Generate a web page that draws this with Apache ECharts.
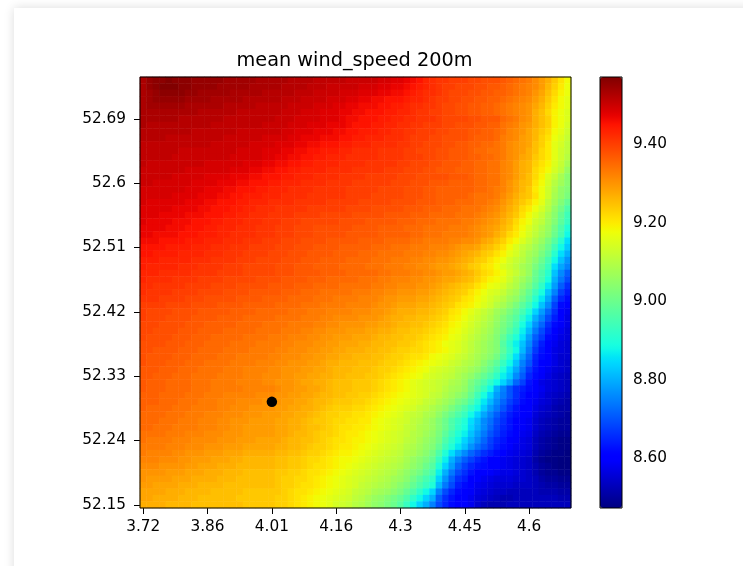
<!DOCTYPE html>
<html>
<head>
<meta charset="utf-8">
<script src="https://cdn.jsdelivr.net/npm/echarts@6/dist/echarts.min.js"></script>
<style>
html,body{margin:0;padding:0;width:743px;height:566px;overflow:hidden;background:#fff}
#panel{position:absolute;left:14px;top:8px;width:800px;height:620px;background:#fff;box-shadow:0 0 10px rgba(0,0,0,.14)}
#chart{position:absolute;left:0;top:0;width:743px;height:566px;filter:blur(0.7px)}
</style>
</head>
<body>
<div id="panel"></div>
<div id="chart"></div>
<script>
const titleText = 'mean wind_speed 200m';
const lonTickLabels = ['3.72','3.86','4.01','4.16','4.3','4.45','4.6'];
const latTickLabels = ['52.15','52.24','52.33','52.42','52.51','52.6','52.69'];
const colorbarTicks = [8.6, 8.8, 9.0, 9.2, 9.4];
const windMin = 8.473, windMax = 9.571;
const markerPoint = [20, 16];
// wind speed x100, top row of the picture first
const windRows = [
[953,955,956,956,957,956,956,956,955,955,955,955,955,954,954,954,954,954,953,953,953,953,953,952,952,952,952,951,951,951,951,951,950,950,950,950,950,949,949,948,948,947,946,945,943,942,941,941,940,940,940,939,939,938,938,938,937,936,935,934,933,931,929,927,924,921,918],
[953,955,956,957,957,957,956,956,955,955,955,955,954,954,954,954,954,953,953,953,953,953,952,952,952,952,951,951,951,950,950,950,950,950,949,949,949,948,948,947,947,946,945,944,943,942,941,940,940,939,939,939,938,938,937,937,936,935,934,933,932,931,929,926,923,920,917],
[953,954,955,956,956,956,956,955,955,954,954,954,954,954,953,953,953,953,953,952,952,952,952,952,951,951,951,950,950,950,950,949,949,949,948,948,948,947,947,946,946,945,944,943,942,942,941,940,939,939,939,938,938,937,937,936,936,935,934,933,932,930,928,925,922,919,917],
[953,954,955,955,955,955,955,954,954,954,954,953,953,953,953,953,952,952,952,952,952,952,951,951,951,950,950,950,950,949,949,949,948,948,947,947,946,946,945,945,945,944,943,943,942,941,940,940,939,939,938,938,937,937,936,936,935,934,933,932,931,929,927,924,921,918,916],
[953,954,954,954,954,954,954,953,953,953,953,953,953,952,952,952,952,952,951,951,951,951,951,950,950,950,950,949,949,949,948,948,947,947,946,946,946,945,945,944,944,943,942,942,941,941,940,939,939,938,938,937,937,936,936,935,934,933,932,931,930,928,926,923,920,918,916],
[953,953,953,953,953,953,953,953,953,952,952,952,952,952,952,951,951,951,951,951,951,951,950,950,950,949,949,949,948,948,948,947,947,946,946,945,945,945,944,944,943,943,942,941,941,940,940,939,939,938,938,937,937,936,936,935,934,933,932,931,930,927,925,922,919,917,915],
[953,953,953,953,953,953,952,952,952,952,952,952,952,951,951,951,951,951,951,951,951,950,950,950,949,949,949,949,948,948,948,947,946,946,945,945,945,944,944,943,943,942,942,941,941,941,940,939,939,939,939,938,938,937,937,937,935,934,933,931,930,927,925,923,919,917,915],
[953,952,952,952,952,952,952,952,952,952,952,951,951,951,951,951,951,951,951,950,950,950,950,949,949,949,948,948,948,947,947,947,946,945,945,945,944,944,943,943,942,942,941,941,940,940,940,939,939,938,938,938,937,937,936,936,934,933,932,930,929,927,925,923,919,917,914],
[952,952,952,952,952,952,952,952,951,951,951,951,951,951,951,950,950,950,950,950,950,950,949,949,948,948,948,947,947,947,946,946,945,945,944,944,944,943,943,942,942,941,941,940,940,940,939,939,938,938,938,937,937,936,936,935,934,932,931,930,928,926,924,922,918,916,913],
[952,952,952,952,951,951,951,951,951,951,951,951,951,950,950,950,950,950,950,949,949,949,949,948,948,947,947,947,946,946,946,945,945,944,944,943,943,943,942,942,942,941,940,940,940,939,939,938,938,938,938,937,936,936,936,935,933,932,931,929,928,926,923,921,917,915,912],
[951,951,951,951,951,951,951,951,951,951,951,950,950,950,950,950,950,949,949,949,949,948,948,948,947,947,946,946,945,945,945,944,944,943,943,943,942,942,942,942,941,941,940,940,939,939,939,938,938,937,937,936,936,935,935,934,933,931,930,929,928,925,923,920,916,914,911],
[951,951,951,951,951,951,950,950,950,950,950,950,950,950,950,949,949,949,949,948,948,948,947,947,946,946,945,945,944,944,944,943,943,942,942,942,942,941,941,941,941,940,940,939,939,939,938,938,937,937,937,936,935,935,934,934,933,931,930,929,927,925,922,920,916,913,911],
[951,951,951,951,951,950,950,950,950,950,950,950,950,950,949,949,949,949,949,948,948,947,947,946,946,945,945,944,944,943,943,943,942,942,942,942,942,941,941,941,941,940,940,940,939,939,938,938,937,937,937,936,936,935,935,934,933,931,930,928,927,924,922,920,916,913,910],
[951,950,950,950,950,950,950,950,950,950,949,949,949,949,949,949,948,948,948,947,947,946,946,945,945,944,944,943,943,943,943,942,942,942,942,941,941,941,941,941,940,940,939,939,939,938,938,937,937,937,936,936,935,935,934,934,932,931,929,927,926,923,921,919,915,912,908],
[950,950,950,950,950,950,950,949,949,949,949,949,949,949,948,948,948,947,947,946,946,945,945,944,944,943,943,943,943,942,942,942,942,941,941,941,941,941,940,940,940,939,939,939,938,938,937,937,937,936,936,936,935,935,934,934,932,931,929,927,926,922,920,918,914,911,906],
[950,950,950,950,950,949,949,949,949,949,948,948,948,948,947,947,947,946,946,945,945,945,944,944,943,943,943,942,942,942,942,941,941,941,941,940,940,940,940,940,939,939,939,938,938,938,938,938,937,937,937,936,935,935,934,934,932,931,929,927,925,922,919,915,912,908,904],
[950,950,949,949,949,949,949,949,948,948,948,948,947,947,947,946,946,945,945,945,944,944,943,943,943,942,942,942,942,941,941,941,941,940,940,940,940,940,940,939,939,939,938,938,938,937,937,937,936,936,936,936,935,935,934,934,932,930,928,926,925,921,918,914,910,907,904],
[949,949,949,949,949,949,949,948,948,948,947,947,947,946,946,945,945,945,944,944,943,943,943,942,942,942,942,941,941,941,941,941,940,940,940,940,940,939,939,939,939,938,938,938,937,937,936,936,936,936,936,936,935,935,934,933,932,930,928,926,924,920,917,913,909,905,903],
[949,949,949,949,949,948,948,948,948,947,947,947,946,946,945,945,944,944,944,943,943,943,942,942,942,942,941,941,941,941,941,941,940,940,940,940,939,939,939,939,939,938,938,938,937,937,936,936,936,936,936,935,934,934,934,933,931,929,927,925,924,921,917,913,908,905,902],
[949,948,948,948,948,948,948,947,947,947,946,946,945,945,945,944,944,943,943,943,942,942,942,942,941,941,941,941,941,940,940,940,940,940,939,939,939,939,939,938,938,938,938,937,937,937,936,936,936,935,935,935,934,934,933,932,930,928,926,924,922,919,916,911,907,903,899],
[948,948,948,948,948,947,947,947,947,946,946,945,945,945,944,944,943,943,942,942,942,941,941,941,941,941,940,940,940,940,940,940,939,939,939,939,938,938,938,938,938,937,937,937,936,936,936,935,935,935,934,934,934,933,932,931,929,927,925,922,920,917,914,910,905,901,896],
[948,948,948,947,947,947,947,946,946,946,945,945,945,944,944,943,943,942,942,942,941,941,941,941,940,940,940,940,939,939,939,939,939,938,938,938,938,938,937,937,937,937,936,936,936,935,935,935,935,934,934,934,933,932,931,930,928,926,924,921,918,915,912,908,904,899,894],
[948,947,947,947,947,946,946,946,945,945,945,944,944,943,943,943,942,942,942,941,941,941,940,940,940,939,939,939,939,939,939,938,938,938,938,937,937,937,937,937,936,936,936,935,935,935,934,934,934,934,933,933,932,931,930,929,927,925,922,919,917,913,911,907,903,898,893],
[947,947,947,947,946,946,946,945,945,945,944,944,943,943,943,942,942,942,941,941,941,940,940,940,939,939,939,938,938,938,938,938,938,937,937,937,937,936,936,936,936,935,935,935,934,934,934,934,933,933,933,932,931,930,929,928,926,924,921,918,915,912,909,906,901,896,890],
[947,947,946,946,946,946,945,945,945,944,944,944,943,943,942,942,942,942,941,941,941,940,940,940,939,939,939,938,938,938,938,938,937,937,937,937,937,936,936,936,936,936,935,935,934,934,934,933,933,933,933,932,931,930,929,927,925,922,920,917,914,911,908,905,900,895,888],
[946,946,946,945,945,945,945,944,944,944,943,943,943,942,942,942,941,941,941,940,940,940,939,939,939,938,938,938,938,937,937,937,937,937,936,936,936,936,935,935,935,935,934,934,933,933,933,933,932,932,931,931,930,928,927,925,923,920,918,915,912,909,906,902,897,891,885],
[945,945,945,945,944,944,944,944,943,943,943,942,942,942,941,941,941,940,940,940,940,939,939,939,938,938,938,937,937,937,937,936,936,936,936,936,935,935,935,934,934,934,933,933,933,932,932,932,931,930,929,929,928,926,925,923,921,918,915,912,910,907,904,900,894,888,883],
[945,945,944,944,944,944,943,943,943,943,942,942,942,941,941,941,940,940,940,940,939,939,939,938,938,938,937,937,937,937,936,936,936,936,935,935,935,934,934,934,934,933,933,933,932,932,931,931,930,929,928,927,926,924,923,921,919,916,914,911,908,906,902,898,891,885,880],
[944,944,944,943,943,943,943,943,942,942,942,941,941,941,941,940,940,940,939,939,939,939,938,938,938,937,937,937,936,936,936,936,935,935,935,935,934,934,934,933,933,933,932,932,931,931,930,930,929,928,927,926,924,923,921,919,917,914,912,910,907,904,900,895,888,882,877],
[944,943,943,943,943,943,942,942,942,941,941,941,941,940,940,940,939,939,939,939,939,938,938,938,937,937,937,936,936,936,936,935,935,935,935,934,934,934,933,933,933,932,932,931,931,930,929,929,928,927,926,924,923,921,920,918,915,913,911,908,906,902,898,893,885,879,875],
[943,943,943,942,942,942,942,942,941,941,941,941,940,940,940,940,939,939,939,939,939,938,938,938,937,937,937,937,936,936,936,936,935,935,935,935,935,934,934,933,933,933,932,932,931,931,930,929,929,928,927,926,924,922,921,919,917,914,912,909,906,900,896,891,882,876,871],
[943,942,942,942,942,941,941,941,941,940,940,940,940,939,939,939,939,939,938,938,938,938,937,937,937,937,936,936,936,935,935,935,935,935,934,934,934,933,933,932,932,932,931,931,930,930,929,928,928,927,926,925,923,921,919,918,916,913,910,907,904,899,895,889,880,874,869],
[942,942,941,941,941,941,941,940,940,940,940,939,939,939,939,938,938,938,938,938,937,937,937,937,936,936,936,935,935,935,935,934,934,934,934,934,933,933,932,932,931,931,931,930,930,929,928,927,926,925,924,923,921,919,917,916,914,911,909,905,902,897,892,886,878,871,866],
[942,941,941,941,941,940,940,940,940,939,939,939,939,938,938,938,938,937,937,937,937,937,936,936,936,935,935,935,934,934,934,934,934,933,933,933,932,932,931,931,930,930,930,929,929,928,927,926,925,924,923,921,919,917,915,914,912,909,907,903,899,894,889,882,875,868,864],
[941,941,941,940,940,940,940,939,939,939,938,938,938,938,938,937,937,937,937,936,936,936,936,935,935,935,935,934,934,934,933,933,933,933,932,932,932,931,930,930,929,929,929,928,928,927,926,925,924,923,921,920,918,916,914,912,910,907,905,901,897,891,886,879,871,865,862],
[940,940,940,940,939,939,939,939,938,938,938,938,937,937,937,937,936,936,936,936,936,935,935,935,935,934,934,934,933,933,933,933,932,932,932,932,931,930,930,929,928,928,928,927,927,926,925,924,923,921,920,919,917,915,913,910,908,905,902,898,894,888,882,876,868,862,860],
[940,939,939,939,939,938,938,938,938,937,937,937,937,937,936,936,936,936,935,935,935,935,935,934,934,934,933,933,933,932,932,932,932,931,931,931,930,930,929,928,927,927,927,926,926,925,924,923,921,920,918,916,914,912,910,907,905,902,899,895,890,884,878,872,866,861,858],
[940,939,939,939,938,938,938,938,937,937,937,937,936,936,936,936,935,935,935,935,935,934,934,934,934,933,933,933,932,932,931,931,931,931,930,930,930,929,928,927,927,926,926,925,925,924,923,922,920,919,917,915,913,911,909,906,903,900,897,892,887,880,875,869,864,860,857],
[939,939,939,938,938,938,938,937,937,937,936,936,936,936,936,935,935,935,935,934,934,934,934,933,933,933,933,932,932,931,931,930,930,930,930,929,929,928,928,927,926,926,925,925,924,923,922,921,919,918,916,914,912,910,908,905,902,899,895,889,884,877,872,866,862,859,857],
[939,939,938,938,938,938,937,937,937,936,936,936,936,935,935,935,935,935,934,934,934,934,933,933,933,932,932,931,931,930,930,930,929,929,929,928,928,927,927,926,925,925,924,924,923,922,921,920,918,917,915,913,911,909,907,904,901,897,893,887,881,874,869,864,860,858,856],
[939,938,938,938,938,937,937,937,936,936,936,935,935,935,935,935,934,934,934,934,933,933,933,932,932,932,931,931,930,930,929,929,929,928,928,928,927,926,926,925,925,924,924,923,922,921,920,919,917,916,914,912,910,908,906,903,899,894,890,885,878,871,867,862,859,857,856],
[938,938,938,938,937,937,937,936,936,936,935,935,935,935,934,934,934,934,933,933,933,933,932,932,931,931,931,930,930,929,929,928,928,928,927,927,926,926,925,925,924,924,923,922,921,920,919,917,916,915,913,911,909,907,905,903,897,892,887,882,876,869,864,860,858,856,855],
[938,938,937,937,937,937,936,936,936,935,935,935,935,934,934,934,934,933,933,933,933,932,932,931,931,931,930,930,929,929,928,928,927,927,927,926,926,925,925,924,923,923,922,922,921,920,919,918,916,915,913,911,909,907,905,903,898,893,888,881,874,867,863,860,857,856,855],
[938,937,937,937,937,936,936,936,935,935,935,935,934,934,934,933,933,933,933,933,932,932,931,931,931,930,930,929,929,928,928,927,927,926,926,926,925,925,924,923,923,922,921,921,920,918,917,916,915,913,912,910,908,906,904,901,896,891,885,878,872,865,862,860,857,855,855],
[938,937,937,937,936,936,936,935,935,935,934,934,934,934,933,933,933,933,932,932,932,931,931,930,930,930,929,929,928,927,927,926,926,926,925,925,925,924,923,923,922,921,920,919,918,917,916,915,913,912,910,909,907,904,901,898,893,888,882,875,870,864,861,859,857,855,854],
[937,937,937,936,936,936,935,935,935,934,934,934,934,933,933,933,932,932,932,932,931,931,930,930,930,929,929,928,928,927,926,926,926,925,925,925,924,923,923,922,921,920,919,918,917,915,914,913,912,910,909,907,905,902,899,895,890,885,879,873,867,863,860,858,856,855,854],
[937,937,936,936,936,935,935,935,934,934,934,934,933,933,933,933,932,932,932,931,931,931,930,930,929,929,928,928,927,927,926,926,925,925,925,924,924,923,922,921,920,919,918,917,915,914,913,912,911,909,907,905,902,899,896,892,887,883,876,871,865,862,859,857,855,854,853],
[937,936,936,936,935,935,935,935,934,934,934,933,933,933,933,932,932,932,932,931,931,930,930,930,929,928,928,927,927,926,925,925,925,924,924,924,923,922,921,920,919,918,916,915,914,913,912,911,909,908,906,902,899,896,892,888,884,879,872,868,863,860,857,856,855,854,853],
[937,936,936,936,935,935,935,935,934,934,934,933,933,933,933,933,932,932,932,932,932,931,930,930,929,929,928,928,927,926,925,925,925,924,924,924,923,922,921,920,919,918,916,915,914,913,912,910,908,907,905,901,897,893,888,880,875,870,866,864,862,860,858,856,855,854,853],
[936,936,936,935,935,935,935,934,934,934,933,933,933,932,932,932,932,932,931,931,931,930,930,929,929,928,928,927,926,926,925,925,924,924,923,923,922,921,920,919,918,917,916,915,914,912,911,909,907,905,903,899,894,889,884,878,874,870,866,863,861,859,857,855,854,853,852],
[936,936,936,935,935,935,934,934,934,933,933,933,932,932,932,931,931,931,931,930,930,930,929,929,928,928,927,926,926,925,924,924,924,923,923,922,921,920,919,918,917,916,915,914,912,911,909,907,905,902,900,896,891,886,881,876,872,868,865,862,860,858,856,855,853,852,851],
[936,935,935,935,935,934,934,934,933,933,933,933,932,932,931,931,931,930,930,930,930,929,929,928,928,927,927,926,925,924,923,923,923,922,922,921,920,919,918,917,916,915,914,912,911,909,907,905,902,899,896,892,888,883,878,874,870,866,863,861,860,857,855,854,852,851,851],
[935,935,935,935,934,934,934,933,933,933,932,932,932,931,931,931,930,930,930,929,929,929,928,928,927,927,926,925,924,923,923,922,922,921,921,920,919,918,917,916,915,913,912,911,909,908,905,902,899,896,893,888,884,879,875,871,867,864,862,860,859,856,854,853,852,851,850],
[935,935,935,934,934,934,933,933,933,932,932,932,931,931,930,930,930,929,929,929,929,928,928,927,927,926,925,924,924,923,922,922,921,921,920,920,918,917,916,915,914,913,911,910,908,906,903,900,896,893,890,885,881,876,873,869,866,863,861,859,858,855,853,852,851,850,850],
[935,935,934,934,934,933,933,933,933,932,932,932,931,931,930,930,929,929,929,929,929,928,928,927,927,926,925,925,924,923,922,921,921,920,920,919,918,917,916,915,914,912,911,909,908,906,903,900,896,892,889,884,880,876,872,868,865,863,861,859,858,855,853,852,851,850,850],
[934,934,934,934,933,933,933,932,932,932,931,931,931,930,930,930,929,929,929,929,929,928,928,927,926,926,925,924,923,923,922,921,920,920,919,918,917,916,915,914,913,912,910,909,907,905,902,898,894,890,887,882,878,874,870,867,864,862,860,858,857,854,852,851,850,849,849],
[934,933,933,933,933,932,932,932,931,931,931,931,930,930,930,929,929,929,928,928,928,928,927,926,926,925,925,924,923,922,921,921,920,919,919,918,917,916,915,914,913,911,910,908,906,904,901,896,892,888,884,880,876,872,868,865,863,861,859,857,856,853,851,850,849,848,848],
[933,933,933,933,932,932,932,931,931,931,930,930,930,929,929,929,928,928,928,928,928,927,927,926,926,925,924,923,923,922,921,920,920,919,918,917,916,915,914,913,912,910,909,907,905,903,899,894,890,886,882,877,873,870,867,864,862,860,858,857,856,853,851,850,849,848,848],
[933,932,932,932,932,931,931,930,930,930,929,929,929,928,928,928,927,927,927,927,927,926,926,925,925,924,923,923,922,921,920,919,919,918,917,916,915,914,913,912,911,909,908,906,904,901,896,890,885,880,876,872,869,866,864,862,860,858,857,856,855,852,850,849,848,848,847],
[932,932,932,931,931,931,930,930,929,929,929,928,928,928,927,927,926,926,926,926,926,925,925,924,924,923,922,922,921,920,919,918,918,917,916,915,914,913,912,911,910,908,906,904,902,899,893,887,880,875,871,868,865,863,861,860,858,857,856,855,854,851,849,848,848,847,847],
[931,931,931,930,930,930,930,929,929,928,928,928,927,927,927,926,926,926,926,926,926,925,925,924,924,923,922,921,921,920,919,918,917,916,915,914,913,912,911,910,909,907,905,903,900,897,890,884,878,872,868,865,863,862,861,860,858,857,856,855,854,852,850,849,848,847,847],
[930,930,930,930,929,929,929,928,928,928,927,927,927,926,926,926,925,925,925,925,925,924,924,923,923,922,921,921,920,919,918,917,916,915,914,913,912,911,910,909,907,905,903,901,898,895,887,880,874,869,866,863,861,860,859,858,857,857,856,855,854,852,850,849,849,848,848],
[930,929,929,929,929,928,928,928,927,927,927,927,926,926,926,925,925,925,925,925,925,924,923,923,922,922,921,920,919,918,917,916,915,914,913,912,911,910,909,907,906,904,901,898,895,892,884,877,871,866,864,861,860,858,857,856,856,856,855,855,854,853,851,850,850,849,849],
[929,929,928,928,928,928,927,927,927,926,926,926,926,925,925,925,925,925,925,925,925,924,923,923,922,921,921,920,919,918,917,916,915,914,912,911,910,909,908,906,904,902,899,896,893,890,881,874,869,864,862,860,858,857,856,855,855,855,854,854,854,853,852,851,851,850,850],
[928,928,928,928,927,927,927,926,926,926,926,925,925,925,925,925,924,924,924,924,924,924,923,922,921,921,920,919,918,917,916,915,914,912,911,910,908,907,906,904,902,899,896,892,888,884,875,869,865,862,861,859,857,856,855,854,854,853,853,853,853,853,852,852,852,851,851],
[928,928,927,927,927,927,926,926,926,925,925,925,925,925,925,924,924,924,924,924,924,923,923,922,921,920,919,918,917,916,915,914,913,911,910,908,906,905,903,901,899,896,892,888,884,880,871,866,863,861,860,858,856,855,854,853,852,852,853,853,853,853,853,853,853,852,852],
[927,927,927,927,926,926,926,926,925,925,925,925,925,925,925,925,924,924,924,924,924,923,923,922,921,920,919,918,917,916,914,913,912,910,909,907,905,904,902,900,897,893,888,884,880,875,869,865,862,861,860,858,855,853,852,852,852,853,853,853,853,853,853,853,853,853,853]
];
const nCols = windRows[0].length, nRows = windRows.length;
const xCategories = windRows[0].map((_, i) => i % 10 === 0 ? lonTickLabels[i / 10] : '');
const yCategories = windRows.map((_, i) => i % 10 === 0 ? latTickLabels[i / 10] : '');
const heatData = [];
windRows.forEach((row, r) => row.forEach((v, c) => heatData.push([c, nRows - 1 - r, v / 100])));

// matplotlib jet colormap breakpoints
const jetR = [[0,0],[.35,0],[.66,1],[.89,1],[1,.5]];
const jetG = [[0,0],[.125,0],[.375,1],[.64,1],[.91,0],[1,0]];
const jetB = [[0,.5],[.11,1],[.34,1],[.65,0],[1,0]];
function seg(tbl, t){ for(let i=1;i<tbl.length;i++){ if(t<=tbl[i][0]){ const a=tbl[i-1],b=tbl[i]; return a[1]+(b[1]-a[1])*(t-a[0])/(b[0]-a[0]); } } return tbl[tbl.length-1][1]; }
const jet = [];
for(let i=0;i<=128;i++){ const t=i/128; jet.push('rgb('+Math.round(seg(jetR,t)*255)+','+Math.round(seg(jetG,t)*255)+','+Math.round(seg(jetB,t)*255)+')'); }

const font = 'DejaVu Sans';
const textColor = '#000';
const chart = echarts.init(document.getElementById('chart'), null, {renderer:'canvas'});
chart.setOption({
  animation:false,
  backgroundColor:'transparent',
  title:{text:titleText,left:354.5,top:51,textAlign:'center',padding:0,textStyle:{fontFamily:font,fontSize:19.3,fontWeight:'normal',color:textColor}},
  grid:[
    {left:140,top:77,width:431,height:431,show:true,borderColor:'#000',borderWidth:1,backgroundColor:'transparent',z:10},
    {left:600,top:77,width:22,height:431,show:true,borderColor:'#000',borderWidth:1,backgroundColor:'transparent',z:10}
  ],
  xAxis:[
    {type:'category',gridIndex:0,data:xCategories,boundaryGap:true,axisLine:{show:false},splitLine:{show:false},
     axisTick:{show:true,alignWithLabel:true,interval:9,length:6,lineStyle:{color:'#000',width:1}},
     axisLabel:{show:true,interval:9,margin:12,fontFamily:font,fontSize:15.3,color:textColor}},
    {type:'value',gridIndex:1,min:0,max:1,show:false}
  ],
  yAxis:[
    {type:'category',gridIndex:0,data:yCategories,boundaryGap:true,axisLine:{show:false},splitLine:{show:false},
     axisTick:{show:true,alignWithLabel:true,interval:9,length:6,lineStyle:{color:'#000',width:1}},
     axisLabel:{show:true,interval:9,margin:14,fontFamily:font,fontSize:15.3,color:textColor}},
    {type:'value',gridIndex:1,position:'right',min:windMin,max:windMax,axisLine:{show:false},splitLine:{show:false},
     axisTick:{show:true,length:6,customValues:colorbarTicks,lineStyle:{color:'#000',width:1}},
     axisLabel:{show:true,margin:11,customValues:colorbarTicks,formatter:v=>v.toFixed(2),fontFamily:font,fontSize:15.3,color:textColor}}
  ],
  visualMap:{type:'continuous',seriesIndex:0,dimension:2,min:windMin,max:windMax,left:600,top:77,padding:0,itemWidth:22,itemHeight:431,
    calculable:false,hoverLink:false,text:null,showLabel:false,inRange:{color:jet},z:4},
  series:[
    {type:'heatmap',xAxisIndex:0,yAxisIndex:0,data:heatData,progressive:0,emphasis:{disabled:true},itemStyle:{borderWidth:0}},
    {type:'scatter',xAxisIndex:0,yAxisIndex:0,data:[markerPoint],symbol:'circle',symbolSize:10.5,z:6,itemStyle:{color:'#000',opacity:1},silent:true}
  ]
});
</script>
</body>
</html>
